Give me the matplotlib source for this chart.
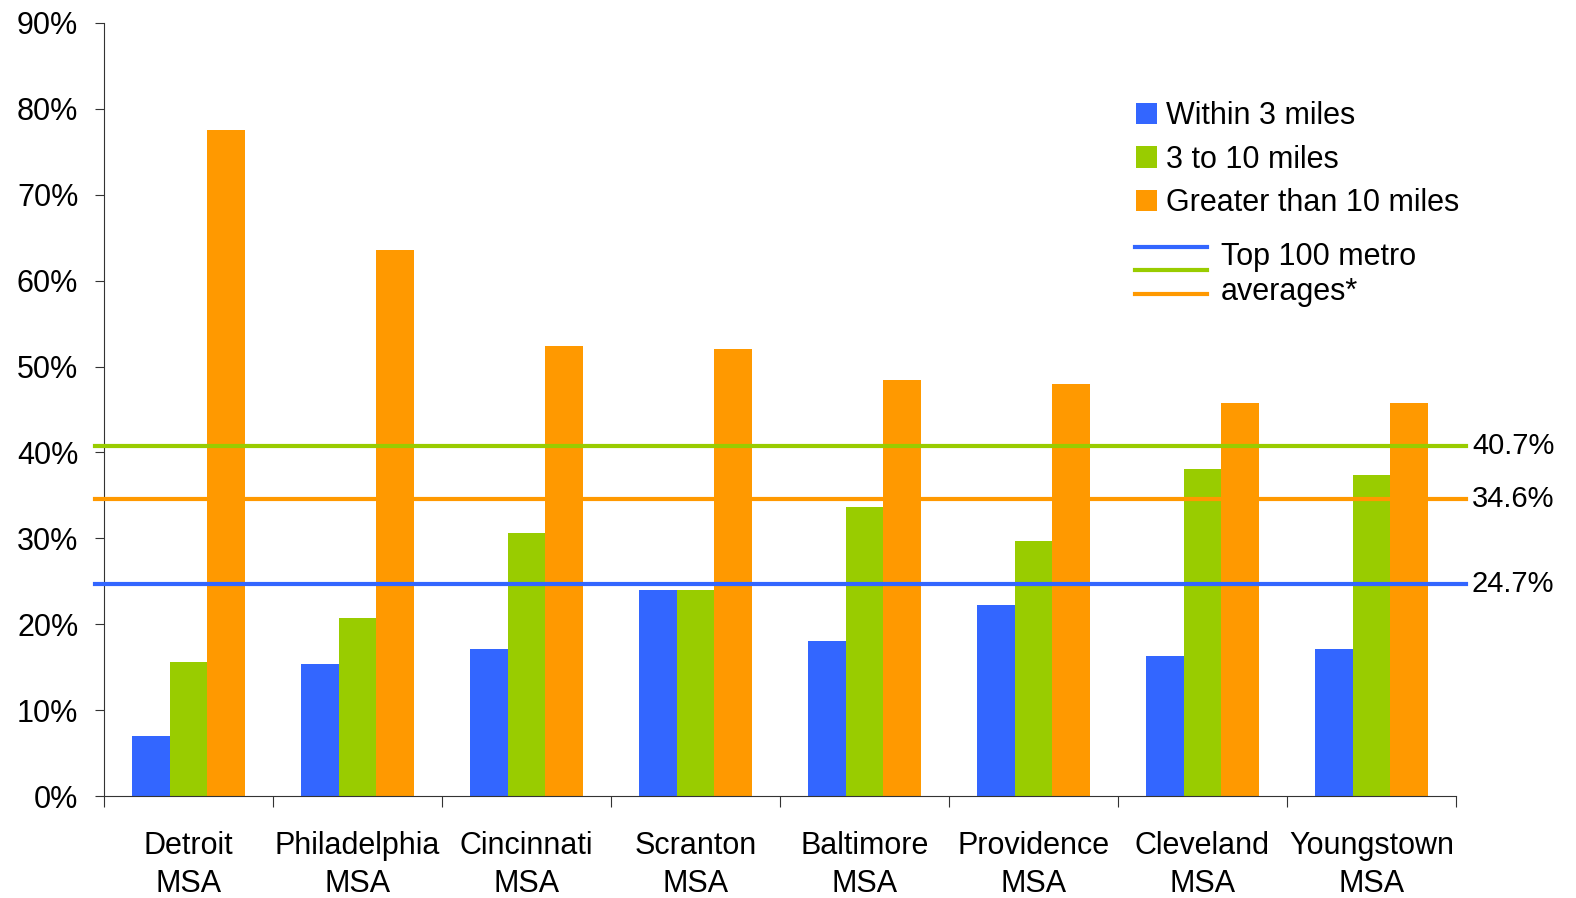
import matplotlib
matplotlib.use("Agg")
import matplotlib.pyplot as plt
from matplotlib.lines import Line2D
import numpy as np

plt.rcParams['font.family'] = ['Liberation Sans', 'DejaVu Sans']

categories = ["Detroit\nMSA", "Philadelphia\nMSA", "Cincinnati\nMSA", "Scranton\nMSA",
              "Baltimore\nMSA", "Providence\nMSA", "Cleveland\nMSA", "Youngstown\nMSA"]
within3 = [7.0, 15.4, 17.1, 24.0, 18.0, 22.2, 16.3, 17.1]
three_to_10 = [15.6, 20.7, 30.6, 24.0, 33.6, 29.7, 38.1, 37.4]
greater10 = [77.5, 63.6, 52.4, 52.0, 48.4, 48.0, 45.8, 45.8]
series_labels = ["Within 3 miles", "3 to 10 miles", "Greater than 10 miles"]
avg_values = [24.7, 40.7, 34.6]   # blue, green, orange averages
avg_labels = ["24.7%", "40.7%", "34.6%"]
yticks = [0, 10, 20, 30, 40, 50, 60, 70, 80, 90]

BLUE = "#3366FF"
GREEN = "#99CC00"
ORANGE = "#FF9900"
colors = [BLUE, GREEN, ORANGE]

fig = plt.figure(figsize=(15.76, 8.98), dpi=100)
ax = fig.add_axes([104/1576, 1-796/898, (1456-104)/1576, (796-23)/898])

x = np.arange(len(categories))
w = 0.222
bars = []
for i, (vals, c, lab) in enumerate(zip([within3, three_to_10, greater10], colors, series_labels)):
    b = ax.bar(x + (i-1)*w, vals, width=w, color=c, label=lab, zorder=2)
    bars.append(b)

# average lines
for v, c, lab in zip(avg_values, [BLUE, GREEN, ORANGE], avg_labels):
    ax.axhline(v, xmin=-0.007, xmax=1.0074, color=c, lw=3, clip_on=False, zorder=3)
    ax.text(1.0118, v, lab, transform=ax.get_yaxis_transform(), ha='left', va='center',
            fontsize=21, color='black')

ax.set_xlim(-0.5, len(categories)-0.5)
ax.set_ylim(0, 90)
ax.set_yticks(yticks)
ax.set_yticklabels([f"{t}%" for t in yticks], fontsize=22)
ax.tick_params(axis='y', direction='out', length=6.5, width=0.8, pad=12, color='#333333')

ax.set_xticks(np.arange(len(categories)+1) - 0.5)
ax.set_xticklabels([])
ax.tick_params(axis='x', which='major', direction='out', length=7.7, width=0.8, color='#333333')
ax.set_xticks(x, minor=True)
ax.set_xticklabels(categories, minor=True, fontsize=22, linespacing=1.31)
ax.tick_params(axis='x', which='minor', length=0, pad=25.5)

for s in ['top', 'right']:
    ax.spines[s].set_visible(False)
for s in ['left', 'bottom']:
    ax.spines[s].set_linewidth(0.8)
    ax.spines[s].set_color('#333333')

leg = ax.legend(handles=bars, labels=series_labels, loc='upper left',
                bbox_to_anchor=(0.763, 0.899), frameon=False, fontsize=22,
                handlelength=0.7, handleheight=0.7, handletextpad=0.3,
                labelspacing=0.44, borderpad=0, borderaxespad=0)

# average lines legend
for yy, c in zip([0.710, 0.680, 0.649], [BLUE, GREEN, ORANGE]):
    ax.add_line(Line2D([0.7626, 0.816], [yy, yy], transform=ax.transAxes, color=c, lw=3,
                       clip_on=False))
ax.text(0.826, 0.675, "Top 100 metro\naverages*", transform=ax.transAxes, ha='left',
        va='center', fontsize=22, linespacing=1.22)

fig.savefig("out.png", dpi=100)
